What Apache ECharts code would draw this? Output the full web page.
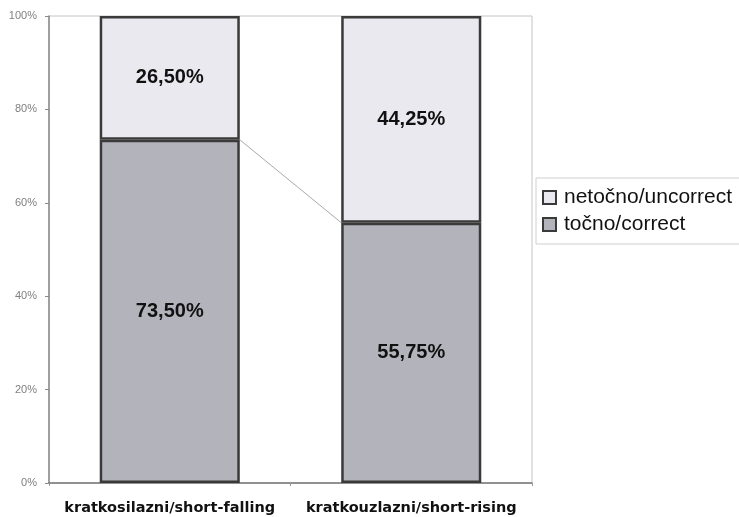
<!DOCTYPE html>
<html><head><meta charset="utf-8">
<script src="https://cdn.jsdelivr.net/npm/echarts@6/dist/echarts.min.js"></script>
<style>html,body{margin:0;padding:0;background:#fff}#c{width:739px;height:517px}</style>
</head><body><div id="c"></div>
<script>
const categories = ['kratkosilazni/short-falling', 'kratkouzlazni/short-rising'];
const correct = [73.50, 55.75];
const incorrect = [26.50, 44.25];
const yTicks = ['0%', '20%', '40%', '60%', '80%', '100%'];
const seriesNames = ['točno/correct', 'netočno/uncorrect'];

const BAR_FRAC = 0.58;
const fmt = v => v.toFixed(2).replace('.', ',') + '%';

const linkData = [];
for (let i = 0; i < correct.length - 1; i++) linkData.push([i, correct[i], i + 1, correct[i + 1]]);

const chart = echarts.init(document.getElementById('c'), null, {renderer: 'canvas'});
chart.setOption({
  animation: false,
  backgroundColor: '#fff',
  grid: {left: 49, right: 207, top: 16, bottom: 34, show: true, borderColor: '#c4c4c4', borderWidth: 1},
  legend: {
    orient: 'vertical', left: 536, top: 178,
    data: [seriesNames[1], seriesNames[0]],
    itemWidth: 13, itemHeight: 13, itemGap: 6,
    padding: [9, 40, 9, 6],
    borderColor: '#cfcfcf', borderWidth: 1,
    textStyle: {fontFamily: 'Liberation Sans', fontSize: 21, color: '#111', padding: [0, 0, 0, 3]},
    icon: 'rect'
  },
  xAxis: {
    type: 'category', data: categories,
    axisLine: {lineStyle: {color: '#777', width: 1.5}},
    axisTick: {show: true, length: 3, lineStyle: {color: '#999'}},
    axisLabel: {interval: 0, hideOverlap: false, fontFamily: 'DejaVu Sans', fontWeight: 'bold',
      fontSize: 14.5, color: '#111', margin: 18}
  },
  yAxis: {
    type: 'value', min: 0, max: 100, interval: 20,
    axisLine: {show: true, lineStyle: {color: '#888', width: 1.5}},
    axisTick: {show: true, length: 4, lineStyle: {color: '#888'}},
    splitLine: {show: false},
    axisLabel: {fontFamily: 'Liberation Sans', fontSize: 11, color: '#808080', margin: 12,
      formatter: (v) => yTicks[Math.round(v / 20)]}
  },
  series: [
    {
      name: seriesNames[0], type: 'bar', stack: 's', data: correct,
      barWidth: (BAR_FRAC * 100) + '%',
      itemStyle: {color: '#b3b3bb', borderColor: '#3a3a3a', borderWidth: 2.5},
      label: {show: true, position: 'inside', formatter: p => fmt(p.value),
        fontFamily: 'Liberation Sans', fontWeight: 'bold', fontSize: 20, color: '#111'}
    },
    {
      name: seriesNames[1], type: 'bar', stack: 's', data: incorrect,
      barWidth: (BAR_FRAC * 100) + '%',
      itemStyle: {color: '#e9e9ef', borderColor: '#3a3a3a', borderWidth: 2.5},
      label: {show: true, position: 'inside', formatter: p => fmt(p.value),
        fontFamily: 'Liberation Sans', fontWeight: 'bold', fontSize: 20, color: '#111'}
    },
    {
      type: 'custom', silent: true, data: linkData, z: 1,
      renderItem: (params, api) => {
        const p1 = api.coord([api.value(0), api.value(1)]);
        const p2 = api.coord([api.value(2), api.value(3)]);
        const half = api.size([1, 0])[0] * BAR_FRAC / 2;
        return {type: 'line', shape: {x1: p1[0] + half, y1: p1[1], x2: p2[0] - half, y2: p2[1]},
          style: {stroke: '#aaa', lineWidth: 1}};
      }
    }
  ]
});
</script></body></html>
